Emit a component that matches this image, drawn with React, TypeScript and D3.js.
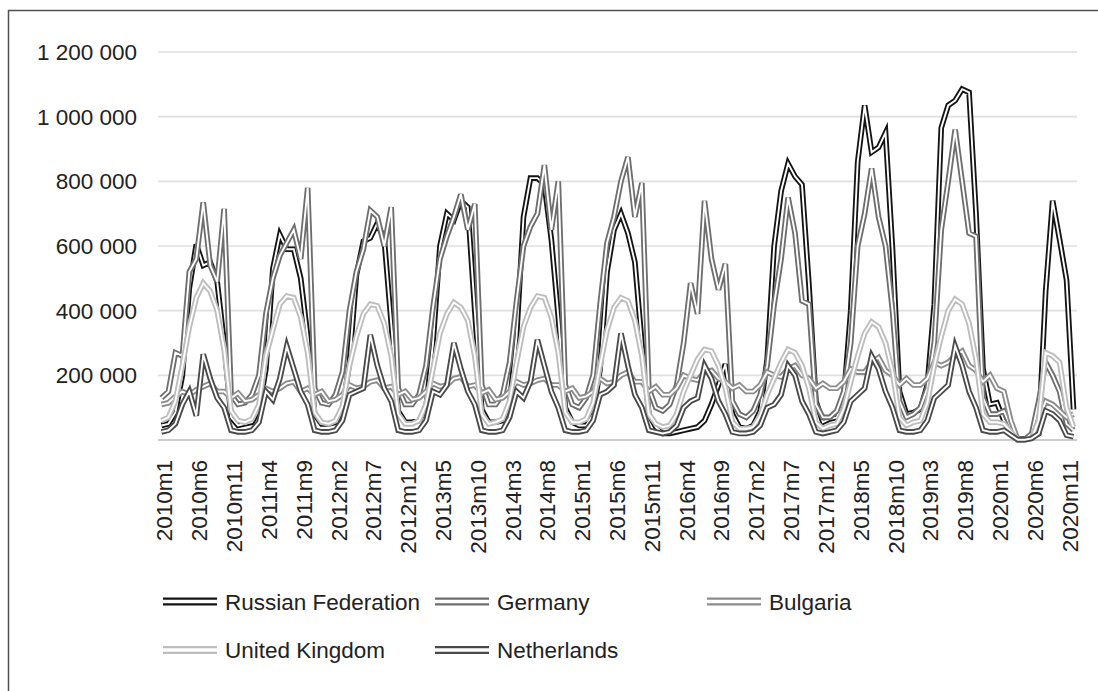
import React from "react";
import * as d3 from "d3";

// monthly values in thousands, 2010m1 .. 2020m12
const russia = [
  45, 50, 85, 200, 470, 605, 540, 550, 490, 300, 70, 45,
  50, 55, 95, 220, 530, 635, 590, 590, 500, 320, 80, 50,
  50, 55, 90, 240, 510, 615, 625, 670, 620, 360, 90, 55,
  55, 60, 100, 300, 600, 700, 680, 740, 720, 400, 95, 55,
  55, 60, 110, 320, 690, 810, 810, 790, 620, 380, 100, 55,
  45, 45, 80, 220, 520, 650, 700, 640, 550, 300, 80, 40,
  20, 20, 25, 30, 35, 40, 60, 110, 170, 235, 80, 40,
  35, 45, 90, 250, 600, 770, 855, 815, 790, 480, 120, 55,
  65, 70, 130, 400, 860, 1035, 890, 905, 950, 590, 150, 80,
  85, 95, 170, 420, 965, 1035, 1050, 1085, 1075, 700, 220, 110,
  115, 60, 35, 3, 3, 8, 20, 460, 740, 620, 495, 95,
];
const germany = [
  130, 150, 270, 260, 520, 560, 735, 540, 490, 715, 140, 110,
  115, 140, 200, 390, 500, 570, 610, 650, 560, 780, 160, 115,
  110, 140, 210, 400, 520, 590, 710, 690, 600, 720, 160, 110,
  110, 140, 230, 410, 560, 630, 690, 760, 650, 730, 170, 110,
  110, 140, 240, 430, 600, 660, 700, 850, 650, 800, 170, 110,
  100, 130, 200, 420, 610, 690, 800, 875, 690, 795, 160, 100,
  90, 110, 170, 300, 485, 390, 740, 560, 465, 545, 120, 80,
  70, 90, 140, 230, 420, 560, 750, 640, 430, 420, 110, 70,
  70, 90, 150, 300, 600, 700, 840, 690, 600, 400, 120, 70,
  80, 100, 160, 300, 650, 800, 960, 800, 640, 630, 130, 80,
  80, 90, 40, 2, 2, 20, 120, 240, 200, 150, 50, 30,
];
const bulgaria = [
  110, 115, 135, 150, 140, 155, 165, 175, 150, 150, 130, 145,
  120, 125, 140, 160, 150, 160, 175, 180, 150, 160, 140, 150,
  120, 125, 140, 170, 160, 165, 180, 185, 160, 165, 140, 150,
  125, 130, 150, 175, 165, 170, 190, 195, 165, 170, 145, 155,
  125, 130, 150, 180, 170, 175, 185, 190, 170, 170, 150, 160,
  130, 135, 150, 190, 175, 180, 200, 210, 180, 180, 150, 165,
  140, 140, 160, 200, 190, 185, 210, 215, 190, 180, 160, 170,
  150, 150, 170, 210, 200, 195, 220, 230, 200, 190, 160, 175,
  160, 160, 180, 220, 210, 210, 240, 255, 215, 200, 170, 190,
  170, 170, 190, 240, 230, 240, 260, 275, 230, 215, 180, 200,
  160, 150, 60, 1, 1, 5, 60, 120, 110, 90, 70, 80,
];
const unitedKingdom = [
  60, 70, 120, 230, 350, 440, 485, 460, 400, 280, 90, 60,
  55, 65, 110, 260, 340, 420, 445, 440, 380, 270, 85, 55,
  50, 60, 105, 230, 320, 390, 420, 415, 360, 260, 80, 50,
  50, 60, 110, 220, 330, 390, 425, 410, 370, 260, 80, 50,
  55, 65, 120, 240, 350, 410, 445, 440, 380, 270, 85, 55,
  55, 65, 115, 230, 340, 410, 440, 430, 370, 260, 80, 50,
  40, 45, 80, 150, 200, 250, 280, 275, 230, 160, 55, 35,
  35, 40, 75, 140, 190, 240, 280, 270, 230, 160, 55, 35,
  45, 50, 95, 180, 260, 330, 365, 350, 300, 210, 70, 45,
  55, 60, 115, 230, 320, 400, 435, 420, 360, 250, 80, 55,
  55, 50, 25, 1, 1, 5, 60, 270, 260, 240, 100, 40,
];
const netherlands = [
  25, 30, 50, 110, 150, 75, 265, 190, 130, 100, 30, 25,
  25, 30, 55, 150, 125, 190, 290, 220, 150, 110, 30, 25,
  25, 30, 60, 140, 150, 160, 325, 230, 160, 120, 30, 25,
  25, 30, 60, 150, 140, 170, 300, 220, 150, 110, 30, 25,
  25, 30, 70, 150, 130, 180, 310, 230, 150, 100, 30, 25,
  25, 30, 60, 140, 150, 170, 330, 230, 140, 100, 30, 25,
  20, 25, 45, 100, 120, 130, 230, 190, 120, 80, 25, 20,
  20, 25, 45, 100, 110, 140, 230, 200, 120, 80, 25, 20,
  25, 30, 55, 120, 140, 160, 260, 220, 150, 100, 30, 25,
  25, 30, 60, 130, 150, 170, 290, 230, 150, 100, 30, 25,
  25, 30, 15, 1, 1, 5, 20, 90, 80, 60, 15, 10,
];

const years = [2010, 2011, 2012, 2013, 2014, 2015, 2016, 2017, 2018, 2019, 2020];
const months = years.flatMap((y) => d3.range(1, 13).map((m) => `${y}m${m}`));
const yTicks = [200000, 400000, 600000, 800000, 1000000, 1200000];

const seriesNames = ["Russian Federation", "Germany", "Bulgaria", "United Kingdom", "Netherlands"];
const seriesValues = [russia, germany, bulgaria, unitedKingdom, netherlands];
const seriesColors = ["#141414", "#6e6e6e", "#8c8c8c", "#bdbdbd", "#4a4a4a"];

const FONT = "'Liberation Sans', Arial, sans-serif";

export default function App() {
  const W = 1098;
  const H = 691;
  const plotLeft = 158;
  const plotRight = 1077;
  const plotTop = 52;
  const plotBottom = 440;

  const x = d3.scalePoint<string>().domain(months).range([plotLeft, plotRight]).padding(0.5);
  const y = d3.scaleLinear().domain([0, 1200000]).range([plotBottom, plotTop]);
  const line = d3
    .line<number>()
    .x((_, i) => x(months[i]) as number)
    .y((v) => y(v * 1000));

  const fmt = (v: number) => d3.format(",")(v).replace(/,/g, " ");
  const labelMonths = months.filter((_, i) => i % 5 === 0);

  const legendCols = [163, 435, 707];
  const legendRows = [601.5, 650];

  return (
    <svg
      width={W}
      height={H}
      style={{ position: "absolute", left: 0, top: 0, background: "#fff" }}
      fontFamily={FONT}
    >
      <rect x={0} y={0} width={W} height={H} fill="#fff" />
      <rect x={8.5} y={10.5} width={1200} height={900} fill="none" stroke="#505050" strokeWidth={1.5} />

      {yTicks.map((t) => (
        <g key={t}>
          <line x1={plotLeft} x2={plotRight} y1={y(t)} y2={y(t)} stroke="#e0e0e0" strokeWidth={1.6} />
          <text x={137} y={y(t)} dy="0.36em" textAnchor="end" fontSize={22.5} fill="#222">
            {fmt(t)}
          </text>
        </g>
      ))}
      <line x1={plotLeft} x2={plotRight} y1={plotBottom} y2={plotBottom} stroke="#bcbcbc" strokeWidth={1.6} />

      {seriesValues.map((vals, si) => (
        <g key={seriesNames[si]}>
          <path d={line(vals) || ""} fill="none" stroke={seriesColors[si]} strokeWidth={5.6} strokeLinejoin="miter" strokeMiterlimit={4} />
          <path d={line(vals) || ""} fill="none" stroke="#ffffff" strokeWidth={1.9} strokeLinejoin="miter" strokeMiterlimit={4} />
        </g>
      ))}

      {labelMonths.map((m) => {
        const px = (x(m) as number) + 11;
        return (
          <text key={m} transform={`translate(${px},460) rotate(-90)`} textAnchor="end" fontSize={22.5} fill="#222">
            {m}
          </text>
        );
      })}

      {seriesNames.map((name, i) => {
        const col = legendCols[i % 3];
        const row = legendRows[Math.floor(i / 3)];
        return (
          <g key={name}>
            <line x1={col} x2={col + 54} y1={row} y2={row} stroke={seriesColors[i]} strokeWidth={8} />
            <line x1={col} x2={col + 54} y1={row} y2={row} stroke="#fff" strokeWidth={3.6} />
            <text x={col + 62} y={row} dy="0.36em" fontSize={22.5} fill="#222">
              {name}
            </text>
          </g>
        );
      })}
    </svg>
  );
}
